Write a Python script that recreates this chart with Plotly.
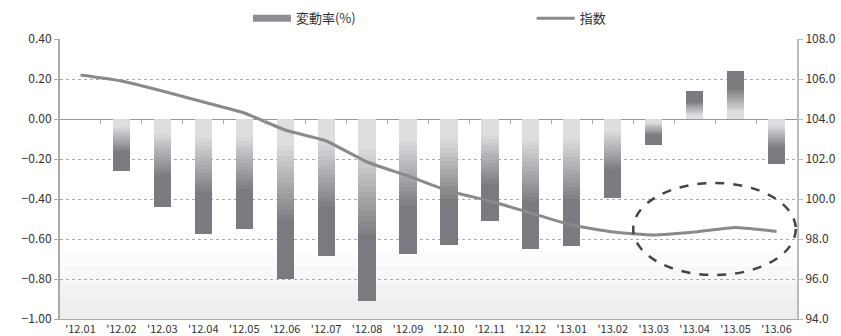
import plotly.graph_objects as go

categories = ["'12.01", "'12.02", "'12.03", "'12.04", "'12.05", "'12.06", "'12.07", "'12.08", "'12.09",
              "'12.10", "'12.11", "'12.12", "'13.01", "'13.02", "'13.03", "'13.04", "'13.05", "'13.06"]
change_rate = [0.0, -0.26, -0.44, -0.575, -0.55, -0.80, -0.685, -0.91, -0.675,
               -0.63, -0.51, -0.65, -0.635, -0.395, -0.13, 0.14, 0.24, -0.225]
index_vals = [106.2, 105.9, 105.4, 104.85, 104.3, 103.45, 102.9, 101.85, 101.15,
              100.4, 99.9, 99.3, 98.7, 98.35, 98.2, 98.35, 98.58, 98.37]
left_ticks = [0.40, 0.20, 0.00, -0.20, -0.40, -0.60, -0.80, -1.00]
right_ticks = [108.0, 106.0, 104.0, 102.0, 100.0, 98.0, 96.0, 94.0]

xs = list(range(len(categories)))
FONT = "Noto Sans CJK JP"

light = (222, 222, 225)
dark = (122, 122, 128)


def grad_color(t):
    if t <= 0.15:
        f = 0.0
    elif t >= 0.65:
        f = 1.0
    else:
        f = (t - 0.15) / 0.5
    c = [round(light[i] + (dark[i] - light[i]) * f) for i in range(3)]
    return "rgb(%d,%d,%d)" % tuple(c)


fig = go.Figure()

N = 30
for k in range(N):
    t = (k + 0.5) / N
    fig.add_trace(go.Bar(
        x=xs, y=[v / N for v in change_rate], width=0.42,
        marker=dict(color=grad_color(t), line=dict(width=0)),
        name="変動率(%)", legendgroup="bar",
        showlegend=False, hoverinfo="skip",
        yaxis="y", xaxis="x",
    ))

# legend-only entry for the bars (wide bar-like swatch)
fig.add_trace(go.Scatter(
    x=[None], y=[None], mode="lines", name="変動率(%)", legendgroup="bar", legend="legend",
    line=dict(color="#8e8e92", width=7), hoverinfo="skip", yaxis="y", xaxis="x",
))

fig.add_trace(go.Scatter(
    x=xs, y=index_vals, mode="lines", name="指数", legend="legend2",
    line=dict(color="#8a8a8a", width=3, shape="spline", smoothing=0.5),
    yaxis="y2", xaxis="x",
))

# invisible helper trace for the tick axis at zero
fig.add_trace(go.Scatter(x=[xs[0]], y=[0], mode="markers", marker=dict(opacity=0),
                         showlegend=False, hoverinfo="skip", xaxis="x2", yaxis="y"))

# soft gradient band near the bottom of the plot
bands = [(-0.66, -0.74, "#fcfcfc"), (-0.74, -0.82, "#f8f8f8"), (-0.82, -0.90, "#f3f3f3"),
         (-0.90, -1.00, "#eeeeee")]
for y0, y1, col in bands:
    fig.add_shape(type="rect", xref="paper", yref="y", x0=0, x1=1, y0=y1, y1=y0,
                  fillcolor=col, line=dict(width=0), layer="below")

# dashed ellipse highlighting the recent months
fig.add_shape(type="circle", xref="x", yref="y", x0=13.5, x1=17.47, y0=-0.78, y1=-0.32,
              line=dict(color="#444444", width=2.5, dash="dash"))

ml, mr, mt, mb = 60, 44, 39, 17
zero_pos = (0 - (-1.0)) / 1.4

legend_common = dict(orientation="h", xanchor="left", yanchor="bottom", y=1.02,
                     font=dict(family=FONT, size=13, color="#333333"),
                     bgcolor="rgba(0,0,0,0)", itemwidth=38)

fig.update_layout(
    width=841, height=336,
    margin=dict(l=ml, r=mr, t=mt, b=mb, autoexpand=False),
    paper_bgcolor="white", plot_bgcolor="rgba(0,0,0,0)",
    barmode="relative", bargap=0,
    font=dict(family=FONT, size=12, color="#333333"),
    showlegend=True,
    legend=dict(x=0.255, **legend_common),
    legend2=dict(x=0.64, **legend_common),
    xaxis=dict(range=[-0.5, 17.5], tickmode="array", tickvals=xs, ticktext=categories,
               showgrid=False, zeroline=False, showline=True, linecolor="#aaaaaa", linewidth=1,
               ticks="", tickfont=dict(family=FONT, size=11, color="#333333"), fixedrange=True),
    xaxis2=dict(range=[-0.5, 17.5], overlaying="x", anchor="free", position=zero_pos,
                tickmode="array", tickvals=[i + 0.5 for i in xs[:-1]], showticklabels=False,
                ticks="outside", ticklen=4, tickcolor="#aaaaaa", showgrid=False, zeroline=False,
                showline=False),
    yaxis=dict(range=[-1.0, 0.4], tickmode="array", tickvals=left_ticks, tickformat=".2f",
               showgrid=True, gridcolor="#aaaaaa", griddash="dot", gridwidth=1,
               zeroline=True, zerolinecolor="#999999", zerolinewidth=1,
               showline=True, linecolor="#aaaaaa", linewidth=2,
               ticks="outside", ticklen=4, tickcolor="#aaaaaa",
               tickfont=dict(family=FONT, size=12, color="#333333")),
    yaxis2=dict(range=[94, 108], tickmode="array", tickvals=right_ticks, tickformat=".1f",
                overlaying="y", side="right", showgrid=False, zeroline=False,
                showline=True, linecolor="#bbbbbb", linewidth=2,
                ticks="outside", ticklen=4, tickcolor="#bbbbbb",
                tickfont=dict(family=FONT, size=12, color="#333333")),
)

fig.write_html("out.html")
